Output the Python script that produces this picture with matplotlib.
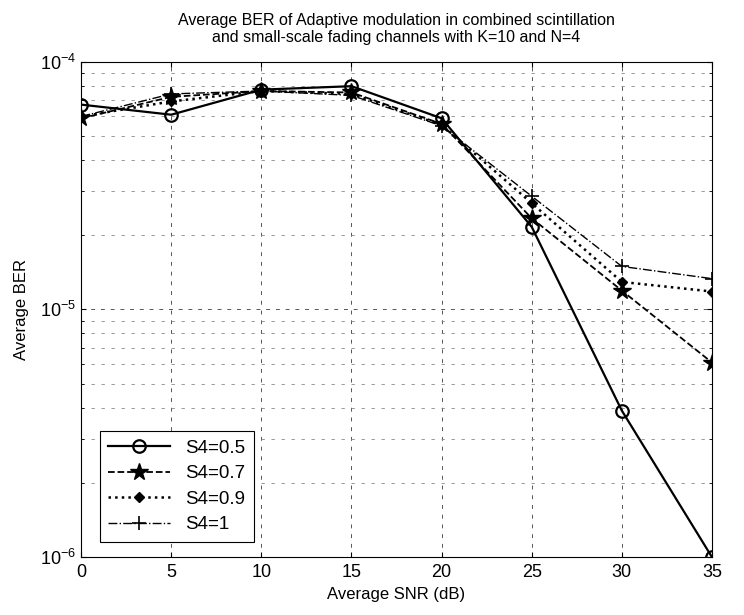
import numpy as np
import matplotlib.pyplot as plt
from matplotlib.ticker import LogLocator, NullFormatter, FixedLocator

plt.rcParams['font.family'] = ['Liberation Sans', 'DejaVu Sans']

snr = [0, 5, 10, 15, 20, 25, 30, 35]
ber_s05 = [6.7e-5, 6.1e-5, 7.7e-5, 7.95e-5, 5.9e-5, 2.15e-5, 3.9e-6, 1.0e-6]
ber_s07 = [5.9e-5, 7.2e-5, 7.6e-5, 7.5e-5, 5.6e-5, 2.33e-5, 1.19e-5, 6.1e-6]
ber_s09 = [6.0e-5, 6.9e-5, 7.6e-5, 7.4e-5, 5.55e-5, 2.68e-5, 1.29e-5, 1.18e-5]
ber_s1 = [6.0e-5, 7.4e-5, 7.6e-5, 7.3e-5, 5.5e-5, 2.86e-5, 1.49e-5, 1.33e-5]

fig = plt.figure(figsize=(7.44, 6.15), dpi=100)
ax = fig.add_axes([0.109, 0.094, 0.848, 0.806])

ax.plot(snr, ber_s05, 'k-', marker='o', mfc='none', ms=9, mew=1.6, lw=1.6, label='S4=0.5')
ax.plot(snr, ber_s07, 'k--', marker='*', ms=13, lw=1.3, label='S4=0.7')
ax.plot(snr, ber_s09, 'k:', marker='D', ms=5, lw=1.8, label='S4=0.9')
ax.plot(snr, ber_s1, 'k-.', marker='+', ms=10, mew=1.2, lw=1.0, label='S4=1')

ax.set_yscale('log')
ax.set_xlim(0, 35)
ax.set_ylim(1e-6, 1e-4)
ax.set_xticks(snr)
ax.yaxis.set_major_locator(FixedLocator([1e-6, 1e-5, 1e-4]))
ax.yaxis.set_minor_locator(LogLocator(base=10, subs=np.arange(2, 10)))
ax.yaxis.set_minor_formatter(NullFormatter())
ax.grid(True, which='major', ls='--', color='#555555', lw=0.7, dashes=(4, 6))
ax.grid(True, which='minor', axis='y', ls='--', color='#888888', lw=0.6, dashes=(4, 8))
ax.tick_params(which='both', direction='in', labelsize=13, top=True, right=True)
ax.tick_params(axis='x', pad=5)

ax.set_xlabel('Average SNR (dB)', fontsize=12, labelpad=4)
ax.set_ylabel('Average BER', fontsize=12, labelpad=8)
ax.set_title('Average BER of Adaptive modulation in combined scintillation\n'
             'and small-scale fading channels with K=10 and N=4', fontsize=11.5, pad=14)

leg = ax.legend(loc='lower left', bbox_to_anchor=(0.015, 0.012), fontsize=13.5, handlelength=3.3,
                fancybox=False, edgecolor='k', framealpha=1, borderpad=0.45, labelspacing=0.45)
leg.get_frame().set_linewidth(0.8)

fig.savefig('out.png', dpi=100)
